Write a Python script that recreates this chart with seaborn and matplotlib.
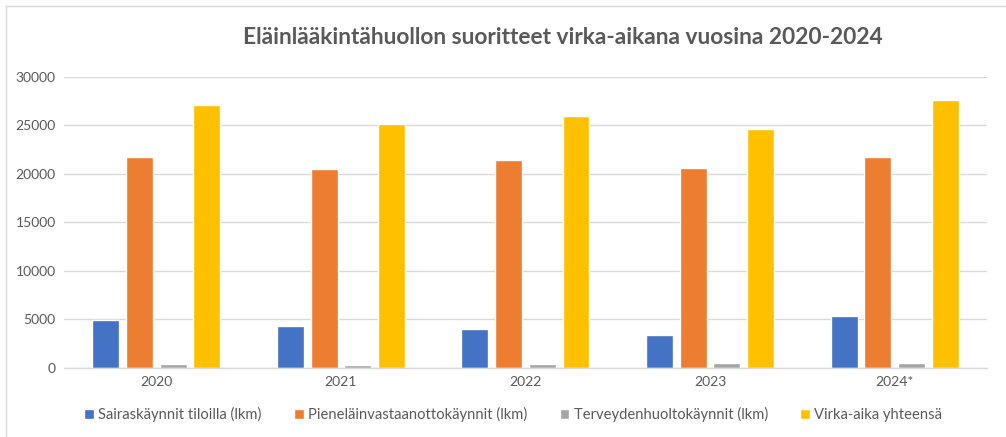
import matplotlib
matplotlib.use("Agg")
import matplotlib.pyplot as plt
from matplotlib.lines import Line2D
import seaborn as sns
import pandas as pd

years = ["2020", "2021", "2022", "2023", "2024*"]
series = ["Sairaskäynnit tiloilla (lkm)", "Pieneläinvastaanottokäynnit (lkm)",
          "Terveydenhuoltokäynnit (lkm)", "Virka-aika yhteensä"]
sairas = [4950, 4330, 4020, 3430, 5360]
pienelain = [21790, 20520, 21450, 20650, 21720]
terveys = [380, 280, 410, 510, 480]
yhteensa = [27140, 25170, 25930, 24610, 27580]
colors = ["#4472C4", "#ED7D31", "#A5A5A5", "#FFC000"]

rows = []
for name, vals in zip(series, [sairas, pienelain, terveys, yhteensa]):
    for y, v in zip(years, vals):
        rows.append({"Vuosi": y, "Sarja": name, "Arvo": v})
df = pd.DataFrame(rows)

sns.set_theme(style="white")
plt.rcParams["font.family"] = ["Lato", "DejaVu Sans"]

fig = plt.figure(figsize=(10.06, 4.37), dpi=100)
ax = fig.add_axes([0.0636, 0.158, 0.9175, 0.666])
sns.barplot(data=df, x="Vuosi", y="Arvo", hue="Sarja", order=years,
            hue_order=series, palette=colors, width=0.73, gap=0.2,
            saturation=1, ax=ax, legend=True)

ax.set_ylim(0, 30000)
ax.set_xlim(-0.5, 4.5)
ax.set_yticks(range(0, 30001, 5000))
ax.yaxis.grid(True, color="#D9D9D9", linewidth=1)
ax.set_axisbelow(True)
for s in ["top", "right", "left"]:
    ax.spines[s].set_visible(False)
ax.spines["bottom"].set_color("#D9D9D9")
ax.spines["bottom"].set_linewidth(1)
ax.tick_params(axis="both", colors="#595959", labelsize=10, length=0, pad=6)
ax.set_xlabel("")
ax.set_ylabel("")

ax.legend(loc="upper center", bbox_to_anchor=(0.487, -0.09), ncol=4, frameon=False,
          fontsize=10.6, labelcolor="#595959", handlelength=0.65, handleheight=0.65,
          handletextpad=0.3, columnspacing=2.2)

fig.text(0.56, 0.915, "Eläinlääkintähuollon suoritteet virka-aikana vuosina 2020-2024",
         ha="center", va="center", fontsize=16.4, fontweight="bold", color="#595959")

fig.add_artist(Line2D([0.006, 1.0], [0.986, 0.986], transform=fig.transFigure,
                      color="#D9D9D9", linewidth=1))
fig.add_artist(Line2D([0.006, 0.006], [0.0, 0.986], transform=fig.transFigure,
                      color="#D9D9D9", linewidth=1))

fig.savefig("out.png", dpi=100)
